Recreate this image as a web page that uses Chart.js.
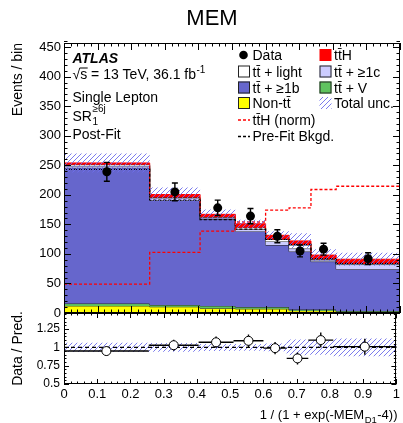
<!DOCTYPE html>
<html><head><meta charset="utf-8">
<script src="https://cdn.jsdelivr.net/npm/chart.js@4/dist/chart.umd.min.js"></script>
<style>
html,body{margin:0;padding:0;background:#fff;}
#wrap{position:relative;width:403px;height:423px;overflow:hidden;background:#fff;}
#wrap canvas{position:absolute;left:0;}
#c1{top:0;} #c2{top:300px;}
</style></head><body>
<div id="wrap"><canvas id="c1" width="403" height="330"></canvas><canvas id="c2" width="403" height="123"></canvas></div>
<script>
// ---------------- data ----------------
const binEdges    = [0, 0.255, 0.405, 0.51, 0.6, 0.67, 0.735, 0.81, 1];
const nonTtbar    = [12, 10.5, 8, 7, 7, 4, 4, 2];
const ttbarV      = [4, 3, 4, 3, 3, 2, 2, 1.5];
const ttbar1b     = [230, 177.5, 147, 128, 105, 98, 81, 70.5];
const ttbar1c     = [3, 3, 2, 4, 6, 5, 3, 8];
const ttbarLight  = [2, 1.5, 1, 2.5, 3.5, 6, 1, 1];
const ttH         = [3, 5, 5, 6.5, 7, 7, 7, 8];
const dataValues  = [239, 205, 178, 164, 130, 105, 108, 92];
const dataErrors  = [16, 15, 13, 13, 11, 10, 10, 10];
const totalUnc    = [16, 12, 8, 7, 7, 13, 10, 11];
const ttHNorm     = [49, 102.5, 138.5, 154, 174, 178, 209, 214.5];
const preFitBkgd  = [243, 191, 158, 142, 124.5, 116, 92, 84];
const ratioValues = [0.95, 1.03, 1.07, 1.09, 0.99, 0.85, 1.10, 1.01];
const TT = 'tt\u0304';
const legendCol1 = ['Data', TT + ' + light', TT + ' + \u22651b', 'Non-' + TT, TT + 'H (norm)', 'Pre-Fit Bkgd.'];
const legendCol2 = [TT + 'H', TT + ' + \u22651c', TT + ' + V', 'Total unc.'];

// ---------------- helpers ----------------
const FONT = "'Liberation Sans', Arial, Helvetica, sans-serif";
Chart.defaults.font.family = FONT;
Chart.defaults.color = '#000';
const COL = {non:'#ffff00', v:'#5fc35f', b1:'#6666cc', c1:'#ccccff', light:'#ffffff', tth:'#ff0000'};

function makeHatch(){
  const c = document.createElement('canvas'); c.width = 5; c.height = 5;
  const g = c.getContext('2d');
  g.strokeStyle = 'rgba(110,110,235,0.9)'; g.lineWidth = 1;
  g.beginPath();
  g.moveTo(-1,6); g.lineTo(6,-1);
  g.moveTo(-6,6); g.lineTo(1,-1);
  g.moveTo(4,6); g.lineTo(11,-1);
  g.stroke();
  return g.createPattern(c, 'repeat');
}
const hatch = makeHatch();

function hist(vals){
  const p = vals.map((v,i)=>({x:binEdges[i], y:v}));
  p.push({x:binEdges[binEdges.length-1], y:vals[vals.length-1]});
  return p;
}
const addArr = (a,b)=>a.map((v,i)=>v+b[i]);
const centers = binEdges.slice(0,-1).map((e,i)=>(e+binEdges[i+1])/2);
const cNon = nonTtbar.slice();
const cV = addArr(cNon, ttbarV);
const c1b = addArr(cV, ttbar1b);
const c1c = addArr(c1b, ttbar1c);
const cLight = addArr(c1c, ttbarLight);
const cTot = addArr(cLight, ttH);

function layer(vals, color, fill, order, border){
  return {data:hist(vals), stepped:true, fill:fill, backgroundColor:color,
          borderColor:border||'#262626', borderWidth:1, pointRadius:0, order:order};
}
function font(size, style){ return (style?style+' ':'') + size + 'px ' + FONT; }

// ---------------- plugins ----------------
const frameTicks = {
  id:'frameTicks',
  afterDatasetsDraw(chart, args, o){
    const {ctx, chartArea:a} = chart;
    const xs = chart.scales.x, ys = chart.scales.y;
    ctx.save(); ctx.strokeStyle = '#000'; ctx.lineWidth = 1;
    ctx.beginPath();
    const nx = Math.round((xs.max - xs.min)/o.xMinor);
    for(let k=0;k<=nx;k++){
      const v = xs.min + k*o.xMinor;
      const maj = Math.abs(v/o.xMajor - Math.round(v/o.xMajor)) < 1e-6;
      const L = maj ? o.majLen : o.minLen;
      const px = Math.round(xs.getPixelForValue(v)) + 0.5;
      ctx.moveTo(px, a.bottom); ctx.lineTo(px, a.bottom - L);
      ctx.moveTo(px, a.top); ctx.lineTo(px, a.top + L);
    }
    const ny = Math.round((ys.max - ys.min)/o.yMinor);
    for(let k=0;k<=ny;k++){
      const v = ys.min + k*o.yMinor;
      const maj = Math.abs(v/o.yMajor - Math.round(v/o.yMajor)) < 1e-6;
      const L = maj ? o.majLen : o.minLen;
      const py = Math.round(ys.getPixelForValue(v)) + 0.5;
      ctx.moveTo(a.left, py); ctx.lineTo(a.left + L, py);
      ctx.moveTo(a.right, py); ctx.lineTo(a.right - L, py);
    }
    ctx.stroke();
    ctx.strokeRect(Math.round(a.left)+0.5, Math.round(a.top)+0.5, Math.round(a.right-a.left)-1, Math.round(a.bottom-a.top)-1);
    ctx.restore();
  }
};

const errorBars = {
  id:'errorBars',
  beforeDatasetDraw(chart, args){
    const ds = chart.data.datasets[args.index];
    if(!ds.errY) return;
    const xs = chart.scales.x, ys = chart.scales.y, ctx = chart.ctx;
    ctx.save(); ctx.strokeStyle = '#000'; ctx.lineWidth = 1.4;
    ctx.beginPath();
    ds.data.forEach((p,i)=>{
      const px = xs.getPixelForValue(p.x), py = ys.getPixelForValue(p.y);
      const y1 = ys.getPixelForValue(p.y + ds.errY[i]), y2 = ys.getPixelForValue(p.y - ds.errY[i]);
      ctx.moveTo(px, y1); ctx.lineTo(px, y2);
      if(ds.capPx){
        ctx.moveTo(px-ds.capPx, y1); ctx.lineTo(px+ds.capPx, y1);
        ctx.moveTo(px-ds.capPx, y2); ctx.lineTo(px+ds.capPx, y2);
      }
      if(ds.xBins){
        ctx.moveTo(xs.getPixelForValue(binEdges[i]), py); ctx.lineTo(xs.getPixelForValue(binEdges[i+1]), py);
      }
    });
    ctx.stroke(); ctx.restore();
  }
};

const annotate = {
  id:'annotate',
  afterDraw(chart){
    const ctx = chart.ctx;
    ctx.save(); ctx.fillStyle = '#000'; ctx.textBaseline = 'alphabetic';
    ctx.font = font(22); ctx.textAlign = 'center';
    ctx.fillText('MEM', 212, 25);
    ctx.textAlign = 'left';
    const X = 72.5;
    ctx.font = font(14, 'italic bold'); ctx.fillText('ATLAS', X, 63);
    ctx.font = font(14);
    let yb = 79;
    const wRad = ctx.measureText('\u221A').width, wS = ctx.measureText('\u221As').width;
    ctx.fillText('\u221As', X, yb);
    ctx.fillRect(X + wRad - 0.5, yb - 11.5, wS - wRad + 1, 1);
    const part = ' = 13 TeV, 36.1 fb';
    ctx.fillText(part, X + wS, yb);
    const wP = ctx.measureText(part).width;
    ctx.font = font(10); ctx.fillText('-1', X + wS + wP + 0.5, yb - 6);
    ctx.font = font(14); ctx.fillText('Single Lepton', X, 101.5);
    ctx.fillText('SR', X, 120.5);
    const wSR = ctx.measureText('SR').width;
    ctx.font = font(10);
    ctx.fillText('1', X + wSR + 0.5, 124.5);
    ctx.fillText('\u22656j', X + wSR + 0.5, 112);
    ctx.font = font(14); ctx.fillText('Post-Fit', X, 139);

    // legend
    const rows = [55, 71.5, 87.5, 103, 119.5, 136];
    const bx1 = 238, tx1 = 252.5, bx2 = 319.5, tx2 = 334;
    function box(x, yc, color, stroke){
      ctx.fillStyle = color; ctx.fillRect(x, yc-6, 12, 12);
      if(stroke){ ctx.strokeStyle = '#222'; ctx.lineWidth = 1; ctx.strokeRect(x+0.5, yc-5.5, 11, 11); }
      ctx.fillStyle = '#000';
    }
    function dline(x, yc, color){
      ctx.save(); ctx.strokeStyle = color; ctx.lineWidth = 1.3; ctx.setLineDash([3,2]);
      ctx.beginPath(); ctx.moveTo(x, yc+0.5); ctx.lineTo(x+12, yc+0.5); ctx.stroke(); ctx.restore();
    }
    ctx.beginPath(); ctx.arc(bx1+5.5, rows[0], 4.3, 0, 2*Math.PI); ctx.fill();
    box(bx1, rows[1], COL.light, true);
    box(bx1, rows[2], COL.b1, true);
    box(bx1, rows[3], COL.non, true);
    dline(bx1, rows[4], '#ff0000');
    dline(bx1, rows[5], '#000');
    box(bx2, rows[0], COL.tth, false);
    box(bx2, rows[1], COL.c1, true);
    box(bx2, rows[2], COL.v, true);
    box(bx2, rows[3], hatch, false);
    ctx.font = font(14);
    legendCol1.forEach((t,i)=>ctx.fillText(t, tx1, rows[i]+5));
    legendCol2.forEach((t,i)=>ctx.fillText(t, tx2, rows[i]+5));
    ctx.restore();
  }
};

const xTitle = {
  id:'xTitle',
  afterDraw(chart){
    const ctx = chart.ctx;
    ctx.save(); ctx.fillStyle = '#000'; ctx.textAlign = 'left';
    const a = '1 / (1 + exp(-MEM', s = 'D1', b = '-4))';
    ctx.font = font(13); const wa = ctx.measureText(a).width, wb = ctx.measureText(b).width;
    ctx.font = font(9.5); const ws = ctx.measureText(s).width;
    const x0 = 397.5 - (wa + ws + wb + 1), yb = 119;
    ctx.font = font(13); ctx.fillText(a, x0, yb);
    ctx.font = font(9.5); ctx.fillText(s, x0 + wa + 0.5, yb + 4);
    ctx.font = font(13); ctx.fillText(b, x0 + wa + ws + 1, yb);
    ctx.restore();
  }
};

// ---------------- main panel ----------------
new Chart(document.getElementById('c1'), {
  type:'line',
  data:{datasets:[
    {data:centers.map((x,i)=>({x:x, y:dataValues[i]})), showLine:false, pointRadius:4.5,
     pointBackgroundColor:'#000', pointBorderColor:'#000', pointBorderWidth:0, order:0, errY:dataErrors, capPx:3},
    {data:hist(cTot.map((v,i)=>v-totalUnc[i])), stepped:true, fill:false, borderColor:'rgba(0,0,0,0)', borderWidth:0, pointRadius:0, order:1},
    {data:hist(cTot.map((v,i)=>v+totalUnc[i])), stepped:true, fill:'-1', backgroundColor:hatch, borderColor:'rgba(0,0,0,0)', borderWidth:0, pointRadius:0, order:1},
    {data:hist(ttHNorm), stepped:true, fill:false, borderColor:'#ff0000', borderWidth:1.3, borderDash:[3,2], pointRadius:0, order:2},
    {data:hist(preFitBkgd), stepped:true, fill:false, borderColor:'#000', borderWidth:1.3, borderDash:[3,2], pointRadius:0, order:3},
    layer(cNon, COL.non, 'origin', 10),
    layer(cV, COL.v, '-1', 9),
    layer(c1b, COL.b1, '-1', 8),
    layer(c1c, COL.c1, '-1', 7),
    layer(cLight, COL.light, '-1', 6),
    layer(cTot, COL.tth, '-1', 5, '#ff0000')
  ]},
  options:{
    responsive:false, animation:false, events:[],
    layout:{autoPadding:false, padding:{left:0, right:3, top:43, bottom:17}},
    plugins:{legend:{display:false}, tooltip:{enabled:false},
      frameTicks:{xMajor:0.1, xMinor:0.02, yMajor:50, yMinor:10, majLen:7, minLen:3.5}},
    scales:{
      x:{type:'linear', min:0, max:1, display:false},
      y:{type:'linear', min:0, max:457,
         ticks:{stepSize:50, includeBounds:false, font:{size:13}, padding:3, color:'#000'},
         grid:{display:false, drawTicks:false}, border:{display:false},
         title:{display:true, text:'Events / bin', align:'end', font:{size:14}, color:'#000', padding:{top:10, bottom:0}},
         afterFit(s){ s.width = 64; }}
    }
  },
  plugins:[errorBars, frameTicks, annotate]
});

// ---------------- ratio panel ----------------
const relUnc = totalUnc.map((u,i)=>u/cTot[i]);
new Chart(document.getElementById('c2'), {
  type:'line',
  data:{datasets:[
    {data:centers.map((x,i)=>({x:x, y:ratioValues[i]})), showLine:false, pointRadius:4.5,
     pointBackgroundColor:'#fff', pointBorderColor:'#000', pointBorderWidth:1, order:0,
     errY:dataErrors.map((e,i)=>e/cTot[i]), xBins:true},
    {data:hist(relUnc.map(r=>1-r)), stepped:true, fill:false, borderColor:'rgba(0,0,0,0)', borderWidth:0, pointRadius:0, order:2},
    {data:hist(relUnc.map(r=>1+r)), stepped:true, fill:'-1', backgroundColor:hatch, borderColor:'rgba(0,0,0,0)', borderWidth:0, pointRadius:0, order:2},
    {data:[{x:0, y:1}, {x:1, y:1}], fill:false, borderColor:'#000', borderWidth:1.2, borderDash:[4,3], pointRadius:0, order:1}
  ]},
  options:{
    responsive:false, animation:false, events:[],
    layout:{autoPadding:false, padding:{left:0, right:3, top:13, bottom:0}},
    plugins:{legend:{display:false}, tooltip:{enabled:false},
      frameTicks:{xMajor:0.1, xMinor:0.02, yMajor:0.25, yMinor:0.05, majLen:5, minLen:2.5}},
    scales:{
      x:{type:'linear', min:0, max:1,
         ticks:{stepSize:0.1, font:{size:13}, padding:3, maxRotation:0, autoSkip:false, color:'#000',
                callback:v=>String(Math.round(v*10)/10)},
         grid:{display:false, drawTicks:false}, border:{display:false},
         afterFit(s){ s.height = 39; }},
      y:{type:'linear', min:0.5, max:1.47,
         ticks:{stepSize:0.25, includeBounds:false, font:{size:12}, padding:4, color:'#000',
                callback:v=>String(Math.round(v*100)/100)},
         grid:{display:false, drawTicks:false}, border:{display:false},
         title:{display:true, text:'Data / Pred.', align:'center', font:{size:14}, color:'#000', padding:{top:10, bottom:0}},
         afterFit(s){ s.width = 64; }}
    }
  },
  plugins:[errorBars, frameTicks, xTitle]
});
</script>
</body></html>
